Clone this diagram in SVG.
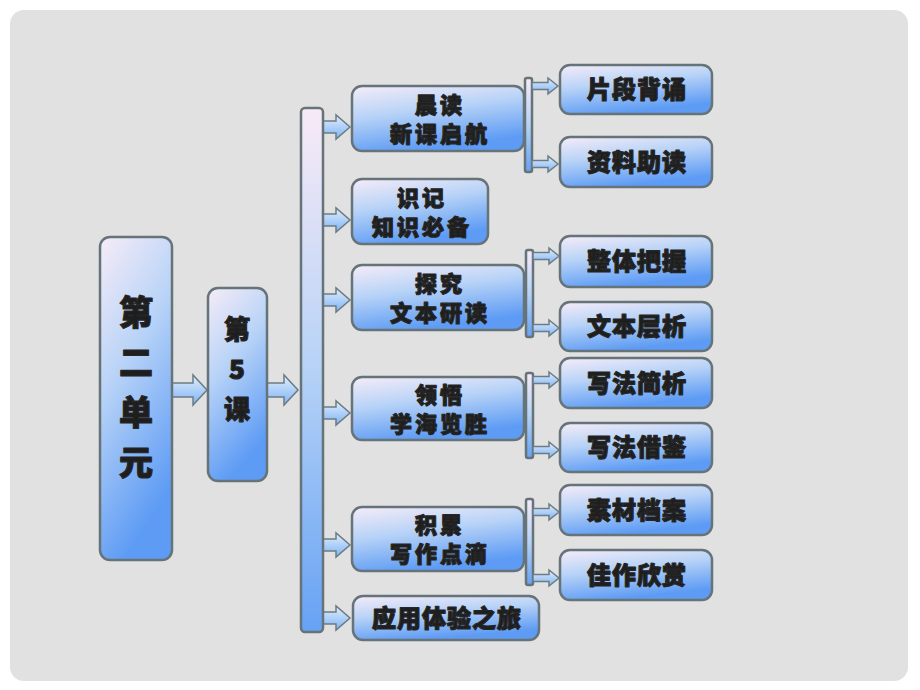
<svg xmlns="http://www.w3.org/2000/svg" xmlns:xlink="http://www.w3.org/1999/xlink" width="920" height="690" viewBox="0 0 920 690">
<defs>
<linearGradient id="gBox" x1="0" y1="0" x2="0.35" y2="1">
<stop offset="0" stop-color="#f6ecf8"/>
<stop offset="0.45" stop-color="#b8d3f7"/>
<stop offset="1" stop-color="#5d9bf4"/>
</linearGradient>
<linearGradient id="gBar" x1="0" y1="0" x2="0" y2="1">
<stop offset="0" stop-color="#f8eaf7"/>
<stop offset="0.5" stop-color="#b6d2f6"/>
<stop offset="1" stop-color="#66a2f4"/>
</linearGradient>
<linearGradient id="gArr" x1="0" y1="0" x2="0" y2="1">
<stop offset="0" stop-color="#e2eefc"/>
<stop offset="1" stop-color="#7db3f5"/>
</linearGradient>
<path id="arrM" d="M0,-6 H13 V-12 L27,0 L13,12 V6 H0 Z"/>
<path id="arrS" d="M0,-3.5 H16 V-8 L26,0 L16,8 V3.5 H0 Z"/>
<style>
.box{fill:url(#gBox);stroke:#667479;stroke-width:2.5}
.bar{fill:url(#gBar);stroke:#667479;stroke-width:2.5}
.arr{fill:url(#gArr);stroke:#6c7c82;stroke-width:1.5;stroke-linejoin:miter}
.t{font-family:"Noto Sans CJK SC","Noto Sans",sans-serif;font-weight:900;fill:#1e1e1e;stroke:#262626;stroke-width:1.2;stroke-linejoin:round;text-anchor:middle}
.t2{font-size:22px;letter-spacing:3px}
.t1{font-size:24px;letter-spacing:1px}
.tb{font-size:34px}
.tm{font-size:26px}
</style>
</defs>
<rect x="0" y="0" width="920" height="690" fill="#ffffff"/>
<rect x="10" y="10" width="898" height="671" rx="14" fill="#e1e1e1"/>

<g id="connectors">
<path class="arr" d="M172,383 H193 V375 L207,390 L193,405 V397 H172 Z"/>
<path class="arr" d="M267,383 H284 V375 L298,390 L284,405 V397 H267 Z"/>
<use href="#arrM" class="arr" x="323" y="127"/>
<use href="#arrM" class="arr" x="323" y="220"/>
<use href="#arrM" class="arr" x="323" y="300"/>
<use href="#arrM" class="arr" x="323" y="413"/>
<use href="#arrM" class="arr" x="323" y="545"/>
<use href="#arrM" class="arr" x="323" y="618"/>
<rect class="bar" x="525" y="78" width="7" height="94" rx="2"/>
<rect class="bar" x="526" y="250" width="7" height="87" rx="2"/>
<rect class="bar" x="526" y="373" width="7" height="85" rx="2"/>
<rect class="bar" x="526" y="499" width="7" height="86" rx="2"/>
<use href="#arrS" class="arr" x="532" y="86"/>
<use href="#arrS" class="arr" x="532" y="164"/>
<use href="#arrS" class="arr" x="533" y="256"/>
<use href="#arrS" class="arr" x="533" y="328"/>
<use href="#arrS" class="arr" x="533" y="380"/>
<use href="#arrS" class="arr" x="533" y="450"/>
<use href="#arrS" class="arr" x="533" y="512"/>
<use href="#arrS" class="arr" x="533" y="578"/>
</g>

<g id="n-unit">
<rect class="box" x="100" y="237" width="72" height="323" rx="10"/>
<text class="t tb" x="136" y="325">第</text>
<text class="t tb" x="136" y="375">二</text>
<text class="t tb" x="136" y="425">单</text>
<text class="t tb" x="136" y="475">元</text>
</g>
<g id="n-lesson">
<rect class="box" x="208" y="288" width="59" height="193" rx="10"/>
<text class="t tm" x="237" y="339">第</text>
<text class="t tm" x="237" y="379">5</text>
<text class="t tm" x="237" y="419">课</text>
</g>
<g id="n-bar">
<rect class="bar" x="301" y="108" width="22" height="524" rx="4"/>
</g>

<g id="n-chendu">
<rect class="box" x="352" y="86" width="172" height="65" rx="10"/>
<text class="t t2" x="440" y="113">晨读</text>
<text class="t t2" x="440" y="142">新课启航</text>
</g>
<g id="n-shiji">
<rect class="box" x="352" y="179" width="136" height="65" rx="10"/>
<text class="t t2" x="422" y="206">识记</text>
<text class="t t2" x="422" y="235">知识必备</text>
</g>
<g id="n-tanjiu">
<rect class="box" x="352" y="265" width="172" height="65" rx="10"/>
<text class="t t2" x="440" y="292">探究</text>
<text class="t t2" x="440" y="321">文本研读</text>
</g>
<g id="n-lingwu">
<rect class="box" x="352" y="377" width="172" height="63" rx="10"/>
<text class="t t2" x="440" y="403">领悟</text>
<text class="t t2" x="440" y="432">学海览胜</text>
</g>
<g id="n-jilei">
<rect class="box" x="352" y="507" width="172" height="64" rx="10"/>
<text class="t t2" x="440" y="533">积累</text>
<text class="t t2" x="440" y="562">写作点滴</text>
</g>
<g id="n-yingyong">
<rect class="box" x="353" y="596" width="186" height="44" rx="10"/>
<text class="t t1" x="447" y="627">应用体验之旅</text>
</g>

<g id="n-pianduan">
<rect class="box" x="560" y="65" width="152" height="49" rx="10"/>
<text class="t t1" x="637" y="98">片段背诵</text>
</g>
<g id="n-ziliao">
<rect class="box" x="560" y="137" width="152" height="50" rx="10"/>
<text class="t t1" x="637" y="171">资料助读</text>
</g>
<g id="n-zhengti">
<rect class="box" x="560" y="236" width="152" height="51" rx="10"/>
<text class="t t1" x="637" y="270">整体把握</text>
</g>
<g id="n-wenben">
<rect class="box" x="560" y="302" width="152" height="49" rx="10"/>
<text class="t t1" x="637" y="335">文本层析</text>
</g>
<g id="n-xiefa1">
<rect class="box" x="560" y="358" width="152" height="50" rx="10"/>
<text class="t t1" x="637" y="392">写法简析</text>
</g>
<g id="n-xiefa2">
<rect class="box" x="560" y="423" width="152" height="49" rx="10"/>
<text class="t t1" x="637" y="456">写法借鉴</text>
</g>
<g id="n-sucai">
<rect class="box" x="560" y="485" width="152" height="50" rx="10"/>
<text class="t t1" x="637" y="519">素材档案</text>
</g>
<g id="n-jiazuo">
<rect class="box" x="560" y="550" width="152" height="50" rx="10"/>
<text class="t t1" x="637" y="584">佳作欣赏</text>
</g>
</svg>
